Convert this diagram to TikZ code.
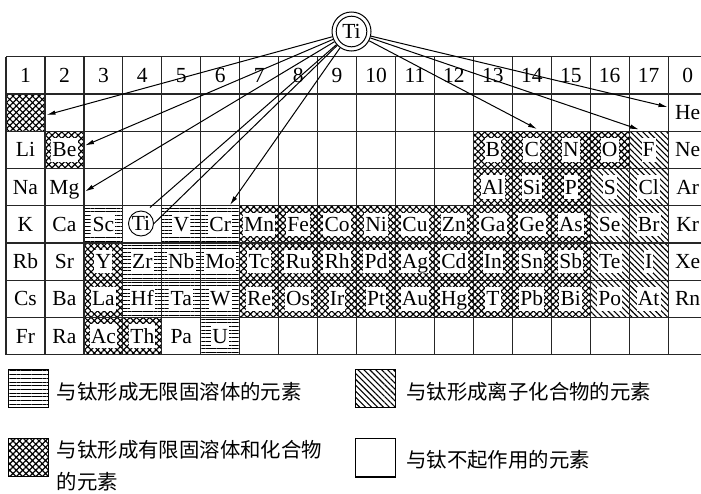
\documentclass[tikz,border=0pt]{standalone}
\usepackage{fontspec}
\setmainfont{Liberation Serif}
\newfontfamily\cjk{Noto Sans CJK SC}
\usetikzlibrary{patterns.meta,arrows.meta}
\begin{document}
\begin{tikzpicture}[x=1pt,y=-1pt,
  hz/.style={pattern={Lines[angle=0,distance=3.7pt,line width=1pt]}},
  dg/.style={pattern={Lines[angle=-45,distance=4.2pt,line width=1.1pt]}},
  xh/.style={pattern={Hatch[angle=45,distance=4.6pt,line width=1.15pt]}},
  pl/.style={},
  cellbox/.style={rectangle,minimum width=38.95pt,minimum height=37.25pt,inner sep=0pt,draw=none},
  sym/.style={font=\fontsize{21.5}{21.5}\selectfont,inner sep=1.2pt,text height=17.5pt,text depth=3.5pt},
  gridline/.style={line width=1.2pt,black!85},
  conn/.style={line width=1pt,-{Latex[length=9pt,width=4.5pt]}},
  plainconn/.style={line width=1pt},
  legbox/.style={rectangle,draw,line width=1.1pt,minimum width=40pt,minimum height=38.5pt,inner sep=0pt},
  legtext/.style={font=\cjk\fontsize{20.4}{20.4}\selectfont,inner sep=0pt,anchor=west}
]
\useasboundingbox (0,0) rectangle (701,493);

% header
\foreach \c/\t in {1/1,2/2,3/3,4/4,5/5,6/6,7/7,8/8,9/9,10/10,11/11,12/12,13/13,14/14,15/15,16/16,17/17,18/0}
  \node[sym] (hd\c) at ({6+38.95*(\c-0.5)},{56.7+37.25*0.5}) {\t};

% H cell (hatched, no symbol)
\node[cellbox,xh] (cH) at ({6+38.95*0.5},{56.7+37.25*1.5}) {};

% elements
\foreach \n/\c/\r/\k in {
  He/18/1/pl,
  Li/1/2/pl, Be/2/2/xh, B/13/2/xh, C/14/2/xh, N/15/2/xh, O/16/2/xh, F/17/2/dg, Ne/18/2/pl,
  Na/1/3/pl, Mg/2/3/pl, Al/13/3/xh, Si/14/3/xh, P/15/3/xh, S/16/3/dg, Cl/17/3/dg, Ar/18/3/pl,
  K/1/4/pl, Ca/2/4/pl, Sc/3/4/hz, V/5/4/hz, Cr/6/4/hz, Mn/7/4/xh, Fe/8/4/xh, Co/9/4/xh,
  Ni/10/4/xh, Cu/11/4/xh, Zn/12/4/xh, Ga/13/4/xh, Ge/14/4/xh, As/15/4/xh, Se/16/4/dg, Br/17/4/dg, Kr/18/4/pl,
  Rb/1/5/pl, Sr/2/5/pl, Y/3/5/xh, Zr/4/5/hz, Nb/5/5/hz, Mo/6/5/hz, Tc/7/5/xh, Ru/8/5/xh, Rh/9/5/xh,
  Pd/10/5/xh, Ag/11/5/xh, Cd/12/5/xh, In/13/5/xh, Sn/14/5/xh, Sb/15/5/xh, Te/16/5/dg, I/17/5/dg, Xe/18/5/pl,
  Cs/1/6/pl, Ba/2/6/pl, La/3/6/xh, Hf/4/6/hz, Ta/5/6/hz, W/6/6/hz, Re/7/6/xh, Os/8/6/xh, Ir/9/6/xh,
  Pt/10/6/xh, Au/11/6/xh, Hg/12/6/xh, T/13/6/xh, Pb/14/6/xh, Bi/15/6/xh, Po/16/6/dg, At/17/6/dg, Rn/18/6/pl,
  Fr/1/7/pl, Ra/2/7/pl, Ac/3/7/xh, Th/4/7/xh, Pa/5/7/pl, U/6/7/hz}
{
  \node[cellbox,\k] (c\n) at ({6+38.95*(\c-0.5)},{56.7+37.25*(\r+0.5)}) {};
  \node[sym,fill=white] (e\n) at (c\n) {\n};
}

% grid
\foreach \i in {0,...,18}
  \draw[gridline] ({6+38.95*\i},56.7) -- ({6+38.95*\i},354.7);
\foreach \j in {0,...,8}
  \draw[gridline] (6,{56.7+37.25*\j}) -- (707,{56.7+37.25*\j});

% Ti in the table
\node[font=\fontsize{21.5}{21.5}\selectfont,circle,draw,line width=0.9pt,inner sep=0pt,minimum size=25pt] (tTi) at (141,223.5) {Ti};

% big Ti
\node[font=\fontsize{21.5}{21.5}\selectfont,circle,draw,line width=1pt,inner sep=0pt,minimum size=39pt] (Ti) at (351.5,31.5) {Ti};
\draw[line width=1pt] (Ti.center) circle[radius=15.3];

% arrow ends
\coordinate (aH) at (46.5,115);
\coordinate (aBe) at (85,145.5);
\coordinate (aMg) at (85,191.5);
\coordinate (aTiA) at (150,207.5);
\coordinate (aCr) at (230,205);
\coordinate (aC) at (537,129);
\coordinate (aF) at (639,129.5);
\coordinate (aHe) at (667.5,107);

\draw[conn] (Ti) -- (aH);
\draw[conn] (Ti) -- (aBe);
\draw[conn] (Ti) -- (aMg);
\draw[plainconn] (Ti) -- (aTiA);
\draw[plainconn] (Ti) -- (tTi.east);
\draw[conn] (Ti) -- (aCr);
\draw[conn] (Ti) -- (aC);
\draw[conn] (Ti) -- (aF);
\draw[conn] (Ti) -- (aHe);

% legend
\node[legbox,hz] (L1) at (28.7,388.4) {};
\node[legtext] (L1t) at (56.7,391.7) {与钛形成无限固溶体的元素};
\node[legbox,dg] (L2) at (375.4,388.4) {};
\node[legtext] (L2t) at (406,391.7) {与钛形成离子化合物的元素};
\node[legbox,xh] (L3) at (28.7,457.4) {};
\node[legtext] (L3t) at (56.7,449.3) {与钛形成有限固溶体和化合物};
\node[legtext] (L3u) at (56.7,481.7) {的元素};
\node[legbox] (L4) at (375.7,457.7) {};
\node[legtext] (L4t) at (406,460) {与钛不起作用的元素};
\end{tikzpicture}
\end{document}
